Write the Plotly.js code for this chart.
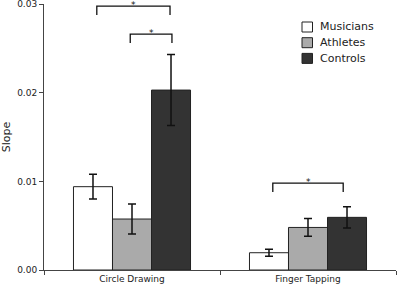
<!DOCTYPE html>
<html><head><meta charset="utf-8">
<script src="https://cdn.plot.ly/plotly-3.0.1.min.js"></script>
<style>html,body{margin:0;padding:0;background:#fff}#chart{width:397px;height:288px}</style>
</head><body><div id="chart"></div>
<script>
const categories = ['Circle Drawing', 'Finger Tapping'];
const groups = ['Musicians', 'Athletes', 'Controls'];
const musicians = [0.0094, 0.00195];
const musiciansErr = [0.0014, 0.0004];
const athletes = [0.00575, 0.0048];
const athletesErr = [0.0017, 0.001];
const controls = [0.0203, 0.00594];
const controlsErr = [0.004, 0.0012];
const yTicks = [0, 0.01, 0.02, 0.03];
// significance brackets: [x0, x1, yTop, yLeg]
const brackets = [
  [-0.2, 0.216, 0.02977, 0.02876],
  [-0.01, 0.227, 0.02662, 0.0256],
  [0.8, 1.2, 0.00981, 0.0088]
];

const fills = ['#ffffff', '#aaaaaa', '#333333'];
const vals = [musicians, athletes, controls];
const errs = [musiciansErr, athletesErr, controlsErr];
const traces = groups.map((g, i) => ({
  type: 'bar', name: g, x: categories, y: vals[i], showlegend: false,
  marker: {color: fills[i], line: {color: '#222', width: 1}},
  error_y: {type: 'data', array: errs[i], visible: true, color: '#111', thickness: 1.5, width: 4}
}));

const shapes = brackets.map(b => ({
  type: 'path', xref: 'x', yref: 'y',
  path: `M${b[0]},${b[3]} L${b[0]},${b[2]} L${b[1]},${b[2]} L${b[1]},${b[3]}`,
  line: {color: '#111', width: 1.3}
}));
const annotations = brackets.map(b => ({
  x: (b[0] + b[1]) / 2, y: b[2], xref: 'x', yref: 'y', text: '*', showarrow: false,
  yanchor: 'top', yshift: 7, borderpad: 0, font: {size: 9, color: '#111', family: 'DejaVu Sans'}
}));

// custom legend (plot area: x 44..396, y 4..270)
const plotW = 352, plotH = 266;
groups.forEach((g, i) => {
  const cy = 27 + i * 15.7;
  const yc = 1 - (cy - 4) / plotH;
  shapes.push({type: 'rect', xref: 'paper', yref: 'paper',
    x0: (302 - 44) / plotW, x1: (312.5 - 44) / plotW,
    y0: yc - 5 / plotH, y1: yc + 5 / plotH,
    fillcolor: fills[i], line: {color: '#222', width: 1}});
  annotations.push({xref: 'paper', yref: 'paper', x: (318 - 44) / plotW, y: yc,
    xanchor: 'left', yanchor: 'middle', text: g, showarrow: false,
    font: {size: 11, color: '#222', family: 'DejaVu Sans'}});
});

const layout = {
  width: 397, height: 288,
  margin: {l: 44, r: 1, t: 4, b: 18},
  paper_bgcolor: '#fff', plot_bgcolor: '#fff',
  font: {family: 'DejaVu Sans', size: 9, color: '#222'},
  barmode: 'group', bargap: 0.335, bargroupgap: 0,
  showlegend: false,
  xaxis: {type: 'category', range: [-0.5, 1.5], tickson: 'boundaries', ticks: 'outside', ticklen: 4,
    tickcolor: '#444', showline: true, linecolor: '#444', linewidth: 1, showgrid: false,
    tickfont: {size: 9, color: '#222'}, fixedrange: true},
  yaxis: {range: [0, 0.03001], tickvals: yTicks, ticktext: ['0.00', '0.01', '0.02', '0.03'], ticks: 'outside', ticklen: 4,
    ticklabeloverflow: 'allow',
    tickcolor: '#444', showline: true, linecolor: '#444', linewidth: 1, showgrid: false, zeroline: false,
    tickfont: {size: 9, color: '#222'}, title: {text: 'Slope', font: {size: 11, color: '#222'}, standoff: 6}},
  shapes: shapes, annotations: annotations
};
Plotly.newPlot('chart', traces, layout, {displayModeBar: false, staticPlot: true});
</script></body></html>
